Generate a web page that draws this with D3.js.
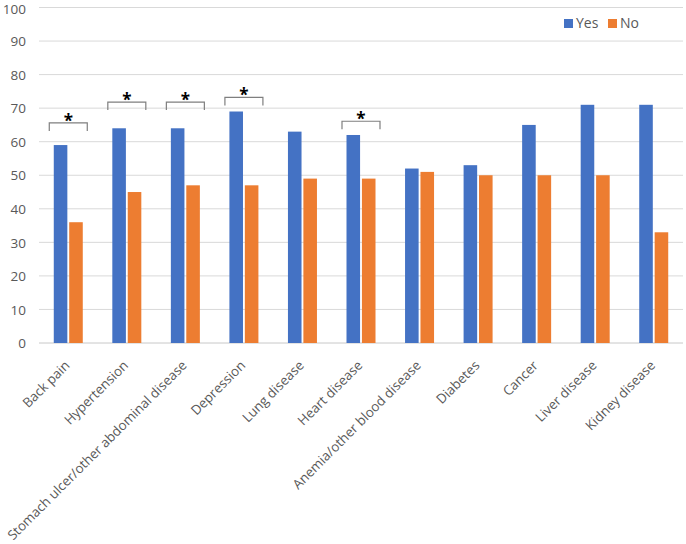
<!DOCTYPE html>
<html><head><meta charset="utf-8">
<script src="https://cdn.jsdelivr.net/npm/d3@7"></script>
<style>body{margin:0;background:#fff}svg{display:block}</style>
</head><body>
<script>
const categories = ["Back pain","Hypertension","Stomach ulcer/other abdominal disease","Depression","Lung disease","Heart disease","Anemia/other blood disease","Diabetes","Cancer","Liver disease","Kidney disease"];
const yesValues = [59,64,64,69,63,62,52,53,65,71,71];
const noValues  = [36,45,47,47,49,49,51,50,50,50,33];
const yTicks = [0,10,20,30,40,50,60,70,80,90,100];
const sigCategories = ["Back pain","Hypertension","Stomach ulcer/other abdominal disease","Depression","Heart disease"];
const sigLevels = [65.6,71.8,71.8,73.2,66.1];
const seriesNames = ["Yes","No"];
const colors = ["#4472C4","#ED7D31"];

(function(){
const W=686,H=544, mLeft=39, mRight=683, mTop=7.5, mBottom=343;
const svg=d3.select("body").append("svg").attr("width",W).attr("height",H);
const font="'Open Sans', 'Noto Sans', sans-serif";
const x=d3.scaleBand().domain(categories).range([mLeft,mRight]);
const y=d3.scaleLinear().domain([0,100]).range([mBottom,mTop]);
const x1=d3.scaleBand().domain(seriesNames).range([0,29]).paddingInner(0.12);

// gridlines
svg.append("g").selectAll("line").data(yTicks).join("line")
 .attr("x1",mLeft).attr("x2",mRight).attr("y1",d=>y(d)).attr("y2",d=>y(d))
 .attr("stroke",d=>d===0?"#c8c8c8":"#d9d9d9").attr("stroke-width",1);
// y labels
const yAxis=d3.axisLeft(y).tickValues(yTicks).tickSize(0).tickPadding(0);
const ga=svg.append("g").attr("transform",`translate(${mLeft-13},0)`).call(yAxis);
ga.select(".domain").remove();
ga.selectAll("text").attr("font-family",font).attr("font-size",13.5).attr("fill","#595959")
 .attr("dy",d=>d===100?"0.42em":"0.35em");

// bars
const groups=svg.append("g").selectAll("g").data(categories).join("g")
 .attr("transform",d=>`translate(${x(d)+x.bandwidth()/2-14.5},0)`);
groups.selectAll("rect").data((d,i)=>[{s:"Yes",v:yesValues[i]},{s:"No",v:noValues[i]}]).join("rect")
 .attr("x",d=>x1(d.s)).attr("width",x1.bandwidth())
 .attr("y",d=>y(d.v)).attr("height",d=>y(0)-y(d.v))
 .attr("fill",(d,i)=>colors[i]);

// significance brackets
const sig=svg.append("g");
sigCategories.forEach((c,i)=>{
  const cx=x(c)+x.bandwidth()/2, yy=y(sigLevels[i]);
  sig.append("path").attr("d",`M${cx-19},${yy+8}V${yy}H${cx+19}V${yy+8}`)
   .attr("fill","none").attr("stroke","#7f7f7f").attr("stroke-width",1.2);
  sig.append("text").attr("x",cx).attr("y",yy+4).attr("text-anchor","middle")
   .attr("font-family",font).attr("font-size",17).attr("font-weight","bold").attr("fill","#000").text("*");
});

// x labels
svg.append("g").selectAll("text").data(categories).join("text")
 .attr("transform",d=>`translate(${x(d)+x.bandwidth()/2-1},${mBottom+20}) rotate(-45)`)
 .attr("text-anchor","end").attr("dy","0.35em")
 .attr("font-family",font).attr("font-size",13.3).attr("fill","#595959").text(d=>d);

// legend
const lg=svg.append("g");
const lx=[564,608];
seriesNames.forEach((s,i)=>{
  lg.append("rect").attr("x",lx[i]).attr("y",19).attr("width",9).attr("height",9).attr("fill",colors[i]);
  lg.append("text").attr("x",lx[i]+12).attr("y",23.5).attr("dy","0.35em")
   .attr("font-family",font).attr("font-size",14).attr("fill","#595959").text(s);
});
})();
</script>
</body></html>
